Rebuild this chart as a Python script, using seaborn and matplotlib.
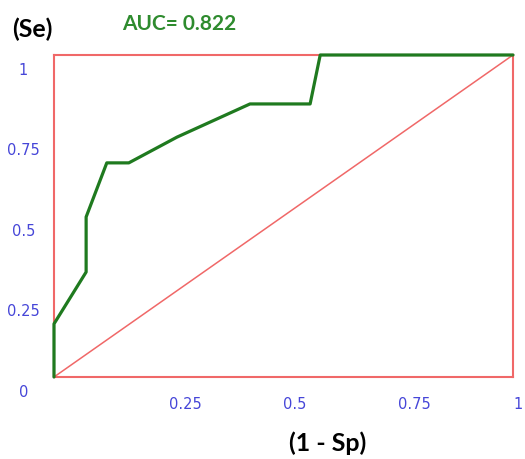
import matplotlib
matplotlib.use("Agg")
import matplotlib.pyplot as plt
import matplotlib.transforms as mtransforms
import seaborn as sns
import pandas as pd

# ROC points
fpr = [0.0, 0.0, 0.070, 0.070, 0.115, 0.163, 0.268, 0.427, 0.558, 0.580, 1.0]
tpr = [0.0, 0.165, 0.326, 0.497, 0.665, 0.665, 0.745, 0.848, 0.848, 1.0, 1.0]
diag = [0.0, 1.0]
auc_value = 0.822

x_ticks = [0.25, 0.5, 0.75, 1]
x_tick_labels = ["0.25", "0.5", "0.75", "1"]
y_ticks = [0, 0.25, 0.5, 0.75, 1]
y_tick_labels = ["0", "0.25", "0.5", "0.75", "1"]

RED = "#f06868"
GREEN = "#1f7a1f"
BLUE = "#4646d8"

sns.set_style("white")
plt.rcParams['font.family'] = ['Lato', 'DejaVu Sans']

df = pd.DataFrame({"fpr": fpr, "tpr": tpr})

fig = plt.figure(figsize=(5.25, 4.6), dpi=100)
ax = fig.add_axes([54 / 525, 1 - 378 / 460, 459 / 525, 322 / 460])

# chance line
ax.plot(diag, diag, color=RED, lw=1.1, zorder=2)
sns.lineplot(data=df, x="fpr", y="tpr", sort=False, estimator=None,
             color=GREEN, lw=2.3, ax=ax, zorder=3, clip_on=False)

ax.set_xlim(0, 1)
ax.set_ylim(0, 1)
for s in ax.spines.values():
    s.set_color(RED)
    s.set_linewidth(1.5)
    s.set_zorder(1)

ax.set_xticks(x_ticks)
ax.set_xticklabels(x_tick_labels, ha="left", family="DejaVu Sans")
ax.set_yticks(y_ticks)
ax.set_yticklabels(y_tick_labels, ha="center", family="DejaVu Sans")
ax.tick_params(axis="x", length=0, pad=14, labelsize=10.5, labelcolor=BLUE)
ax.tick_params(axis="y", length=0, pad=22, labelsize=10.5, labelcolor=BLUE)

# y labels sit a bit below their value in the reference
shift = mtransforms.ScaledTranslation(0, -13 / 100, fig.dpi_scale_trans)
for lab in ax.get_yticklabels():
    lab.set_transform(lab.get_transform() + shift)
ax.set_xlabel("")
ax.set_ylabel("")

fig.text(12 / 525, 1 - 29 / 460, "(Se)", fontsize=18, fontweight="bold",
         color="black", ha="left", va="center")
fig.text(122 / 525, 1 - 24.5 / 460, f"AUC= {auc_value}", fontsize=15,
         fontweight="bold", color="#2e8b2e", ha="left", va="center")
fig.text(328 / 525, 1 - 443 / 460, "(1 - Sp)", fontsize=18, fontweight="bold",
         color="black", ha="center", va="center")

fig.savefig("out.png", dpi=100)
plt.close(fig)
